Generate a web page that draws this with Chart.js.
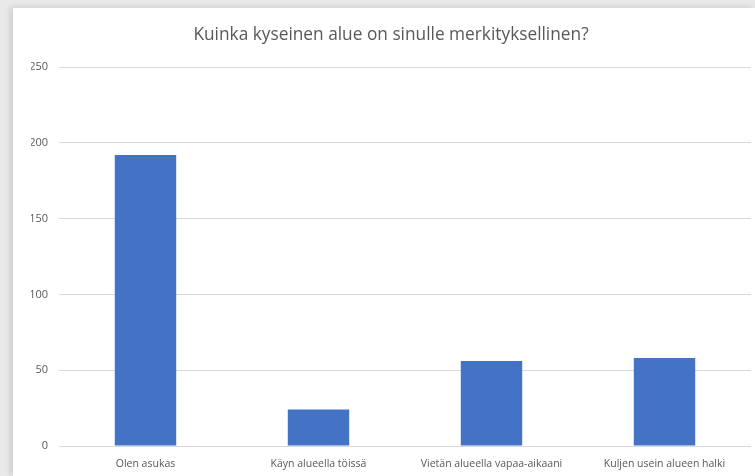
<!DOCTYPE html>
<html><head><meta charset="utf-8">
<script src="https://cdn.jsdelivr.net/npm/chart.js@4"></script>
<style>
html,body{margin:0;padding:0;width:755px;height:476px;overflow:hidden;background:#e9e9e9;}
#panel{position:absolute;left:13px;top:8px;width:742px;height:468px;background:#fff;box-shadow:-3px -1px 6px rgba(0,0,0,0.12);}
canvas{display:block;}
</style></head>
<body>
<div id="panel"><canvas id="c" width="742" height="468"></canvas></div>
<script>
const categories = ["Olen asukas", "Käyn alueella töissä", "Vietän alueella vapaa-aikaani", "Kuljen usein alueen halki"];
const values = [192, 24, 56, 58];
const titleText = "Kuinka kyseinen alue on sinulle merkityksellinen?";
const yMin = 0, yMax = 250, yStep = 50;

new Chart(document.getElementById('c'), {
  type: 'bar',
  data: {
    labels: categories,
    datasets: [{ data: values, backgroundColor: '#4472C4', borderWidth: 0,
      categoryPercentage: 1.0, barPercentage: 0.355 }]
  },
  options: {
    responsive: false,
    animation: false,
    layout: { padding: { right: 4, left: 18, top: 0, bottom: 0 } },
    plugins: {
      legend: { display: false },
      tooltip: { enabled: false },
      title: { display: true, text: titleText, color: '#595959',
        font: { family: 'Open Sans', size: 17.3, weight: 'normal' }, padding: { top: 17, bottom: 21.3 } }
    },
    scales: {
      x: {
        grid: { display: false },
        border: { display: false },
        ticks: { color: '#595959', font: { family: 'Open Sans', size: 10.5 }, padding: 4, maxRotation: 0 },
        afterFit: s => { s.height = 30; }
      },
      y: {
        min: yMin, max: yMax,
        grid: { color: '#d9d9d9', drawTicks: false, lineWidth: 1 },
        border: { display: false },
        ticks: { stepSize: yStep, color: '#595959', font: { family: 'Open Sans', size: 11 }, padding: 11 },
        afterFit: s => { s.width = 28; }
      }
    }
  }
});
</script>
</body></html>
